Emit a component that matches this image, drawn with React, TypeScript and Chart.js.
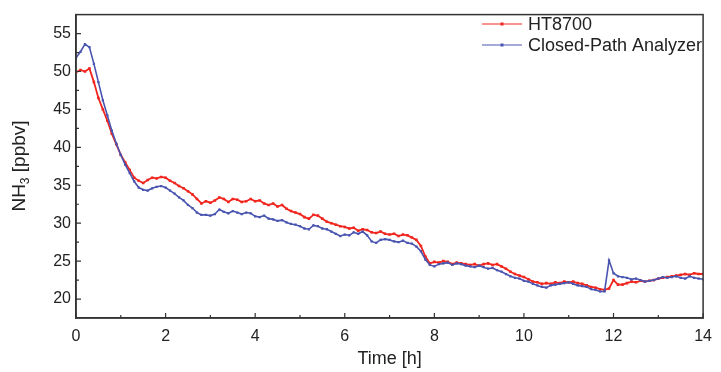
import React, { useEffect, useRef } from "react";
import { Chart, registerables } from "chart.js";

Chart.register(...registerables);

// Sampling grid: every 0.1 h from 0 to 14 h
const timeStepH = 0.1;

const ht8700 = [
  49.9, 50.2, 50.0, 50.4, 48.6, 46.5, 45.0, 43.5, 41.8, 40.4,
  39.0, 38.0, 37.0, 36.0, 35.6, 35.3, 35.7, 36.0, 35.9, 36.1,
  36.0, 35.6, 35.3, 34.9, 34.6, 34.2, 33.8, 33.2, 32.6, 32.9,
  32.7, 33.0, 33.4, 33.2, 32.8, 33.2, 33.1, 32.8, 32.9, 33.2,
  32.9, 33.0, 32.6, 32.4, 32.6, 32.2, 32.4, 31.9, 31.6, 31.4,
  31.2, 30.8, 30.6, 31.1, 31.0, 30.6, 30.2, 30.0, 29.8, 29.6,
  29.5, 29.3, 29.4, 29.0, 29.2, 29.1, 28.8, 28.7, 28.9, 28.6,
  28.5, 28.6, 28.3, 28.5, 28.4, 28.1, 27.8, 27.0, 25.6, 24.7,
  24.9, 24.8, 25.0, 24.9, 24.6, 24.8, 24.7, 24.6, 24.5, 24.6,
  24.4, 24.6, 24.7, 24.5, 24.6, 24.3, 24.0, 23.6, 23.3, 23.1,
  22.9, 22.6, 22.3, 22.2, 22.0, 22.1, 22.0, 22.2, 22.1, 22.3,
  22.2, 22.3, 22.1, 22.0, 21.8, 21.6, 21.5, 21.3, 21.2, 21.4,
  22.5, 21.9, 21.9, 22.1, 22.3, 22.2, 22.4, 22.3, 22.4, 22.5,
  22.7, 22.8, 22.9, 23.0, 23.1, 23.2, 23.3, 23.2, 23.4, 23.3,
  23.3,
];

const closedPath = [
  51.8, 52.6, 53.6, 53.2, 51.0, 48.6, 46.2, 44.2, 42.2, 40.5,
  39.0, 37.7, 36.6, 35.5, 34.7, 34.4, 34.3, 34.6, 34.8, 34.9,
  34.7, 34.3, 33.9, 33.4, 33.0, 32.4, 32.0, 31.4, 31.1, 31.1,
  31.0, 31.2, 31.8, 31.5, 31.3, 31.6, 31.4, 31.2, 31.4, 31.3,
  30.9, 30.8, 31.0, 30.6, 30.5, 30.3, 30.4, 30.1, 29.9, 29.8,
  29.6, 29.3, 29.2, 29.7, 29.6, 29.3, 29.2, 28.9, 28.6, 28.3,
  28.5, 28.4, 28.8, 28.6, 28.9, 28.4, 27.6, 27.4, 27.8, 27.9,
  27.8, 27.6, 27.5, 27.7, 27.4, 27.3, 26.9, 26.3, 25.2, 24.5,
  24.3, 24.6, 24.7, 24.8, 24.5, 24.7, 24.6, 24.4, 24.3, 24.2,
  24.4, 24.2, 24.0, 24.1, 23.8, 23.6, 23.3, 23.0, 22.8, 22.7,
  22.4, 22.3, 22.0, 21.8, 21.6, 21.5, 21.8, 21.9, 22.0, 22.1,
  22.2, 22.0, 21.8, 21.7, 21.6, 21.3, 21.2, 21.0, 21.0, 25.1,
  23.4, 23.0, 22.9, 22.8, 22.6, 22.7, 22.5, 22.3, 22.4, 22.5,
  22.7, 22.9, 22.8, 22.9, 23.0, 22.8, 22.7, 23.0, 22.8, 22.7,
  22.6,
];

const xTicks = [0, 2, 4, 6, 8, 10, 12, 14];
const xMinorTicks = [1, 3, 5, 7, 9, 11, 13];
const yTicks = [20, 25, 30, 35, 40, 45, 50, 55];
const yMinorTicks = [22.5, 27.5, 32.5, 37.5, 42.5, 47.5, 52.5];
const seriesNames = ["HT8700", "Closed-Path Analyzer"];
const xTitle = "Time [h]";

const RED = "#f0261f";
const BLUE = "#4a55b0";
const AXIS = "#333333";
const FONT = "'Liberation Sans', Arial, sans-serif";

const decorPlugin = {
  id: "decor",
  afterDraw(chart: any) {
    const { ctx, chartArea: a, scales } = chart;
    const x = scales.x;
    const y = scales.y;
    ctx.save();
    ctx.strokeStyle = AXIS;
    ctx.lineWidth = 1.5;
    ctx.strokeRect(a.left, a.top, a.right - a.left, a.bottom - a.top);
    // inward ticks
    ctx.lineWidth = 1.2;
    ctx.beginPath();
    xTicks.forEach((v) => {
      const px = x.getPixelForValue(v);
      ctx.moveTo(px, a.bottom);
      ctx.lineTo(px, a.bottom - 5);
    });
    xMinorTicks.forEach((v) => {
      const px = x.getPixelForValue(v);
      ctx.moveTo(px, a.bottom);
      ctx.lineTo(px, a.bottom - 3);
    });
    yTicks.forEach((v) => {
      const py = y.getPixelForValue(v);
      ctx.moveTo(a.left, py);
      ctx.lineTo(a.left + 5, py);
    });
    yMinorTicks.forEach((v) => {
      const py = y.getPixelForValue(v);
      ctx.moveTo(a.left, py);
      ctx.lineTo(a.left + 3, py);
    });
    ctx.stroke();

    // legend
    const colors = [RED, BLUE];
    const rows = [24, 45];
    ctx.font = `18px ${FONT}`;
    ctx.textBaseline = "middle";
    ctx.textAlign = "left";
    seriesNames.forEach((name, i) => {
      ctx.strokeStyle = colors[i];
      ctx.lineWidth = 1;
      ctx.beginPath();
      ctx.moveTo(482, rows[i]);
      ctx.lineTo(522, rows[i]);
      ctx.stroke();
      ctx.fillStyle = colors[i];
      ctx.fillRect(500.5, rows[i] - 1.5, 3, 3);
      ctx.fillStyle = "#222";
      ctx.fillText(name, 528, rows[i] + 1);
    });

    // x title
    ctx.font = `18px ${FONT}`;
    ctx.textAlign = "center";
    ctx.fillStyle = "#222";
    ctx.fillText(xTitle, (a.left + a.right) / 2, 359);

    // y title with subscript
    ctx.translate(20, 166);
    ctx.rotate(-Math.PI / 2);
    const big = `19px ${FONT}`;
    const small = `12px ${FONT}`;
    ctx.font = big;
    const w1 = ctx.measureText("NH").width;
    const w3 = ctx.measureText(" [ppbv]").width;
    ctx.font = small;
    const w2 = ctx.measureText("3").width;
    let sx = -(w1 + w2 + w3) / 2;
    ctx.textAlign = "left";
    ctx.font = big;
    ctx.fillText("NH", sx, 0);
    sx += w1;
    ctx.font = small;
    ctx.fillText("3", sx, 6);
    sx += w2;
    ctx.font = big;
    ctx.fillText(" [ppbv]", sx, 0);
    ctx.restore();
  },
};

export default function App() {
  const ref = useRef<HTMLCanvasElement | null>(null);

  useEffect(() => {
    document.body.style.margin = "0";
    document.body.style.background = "#ffffff";
    const canvas = ref.current;
    if (!canvas) return;
    const toPoints = (arr: number[]) =>
      arr.map((v, i) => ({ x: Math.round(i * timeStepH * 10) / 10, y: v }));

    const chart = new Chart(canvas, {
      type: "line",
      data: {
        datasets: [
          {
            label: seriesNames[1],
            data: toPoints(closedPath),
            borderColor: BLUE,
            backgroundColor: BLUE,
            borderWidth: 1.6,
            pointRadius: 1.6,
            pointStyle: "rect",
            pointBorderWidth: 0,
            tension: 0,
          },
          {
            label: seriesNames[0],
            data: toPoints(ht8700),
            borderColor: RED,
            backgroundColor: RED,
            borderWidth: 1.8,
            pointRadius: 1.8,
            pointStyle: "rect",
            pointBorderWidth: 0,
            tension: 0,
          },
        ],
      },
      options: {
        responsive: false,
        animation: false,
        events: [],
        layout: { padding: { left: 0, top: 5, right: 11, bottom: 0 } },
        plugins: {
          legend: { display: false },
          tooltip: { enabled: false },
          title: { display: false },
        },
        scales: {
          x: {
            type: "linear",
            min: 0,
            max: 14,
            afterBuildTicks: (s: any) => {
              s.ticks = xTicks.map((v) => ({ value: v }));
            },
            afterFit: (s: any) => {
              s.height = 54;
            },
            grid: { display: false, drawTicks: false },
            border: { display: true, color: AXIS, width: 1.5 },
            ticks: {
              padding: 9,
              color: "#222",
              font: { family: FONT, size: 16 },
              maxRotation: 0,
              callback: (v: any) => String(v),
            },
          },
          y: {
            type: "linear",
            min: 17.5,
            max: 57.5,
            afterBuildTicks: (s: any) => {
              s.ticks = yTicks.map((v) => ({ value: v }));
            },
            afterFit: (s: any) => {
              s.width = 76;
            },
            grid: { display: false, drawTicks: false },
            border: { display: true, color: AXIS, width: 1.5 },
            ticks: {
              padding: 5,
              color: "#222",
              font: { family: FONT, size: 16 },
              callback: (v: any) => String(v),
            },
          },
        },
      },
      plugins: [decorPlugin],
    });
    return () => chart.destroy();
  }, []);

  return (
    <div style={{ width: 721, height: 372, background: "#fff" }}>
      <canvas ref={ref} width={721} height={372} style={{ display: "block" }} />
    </div>
  );
}
